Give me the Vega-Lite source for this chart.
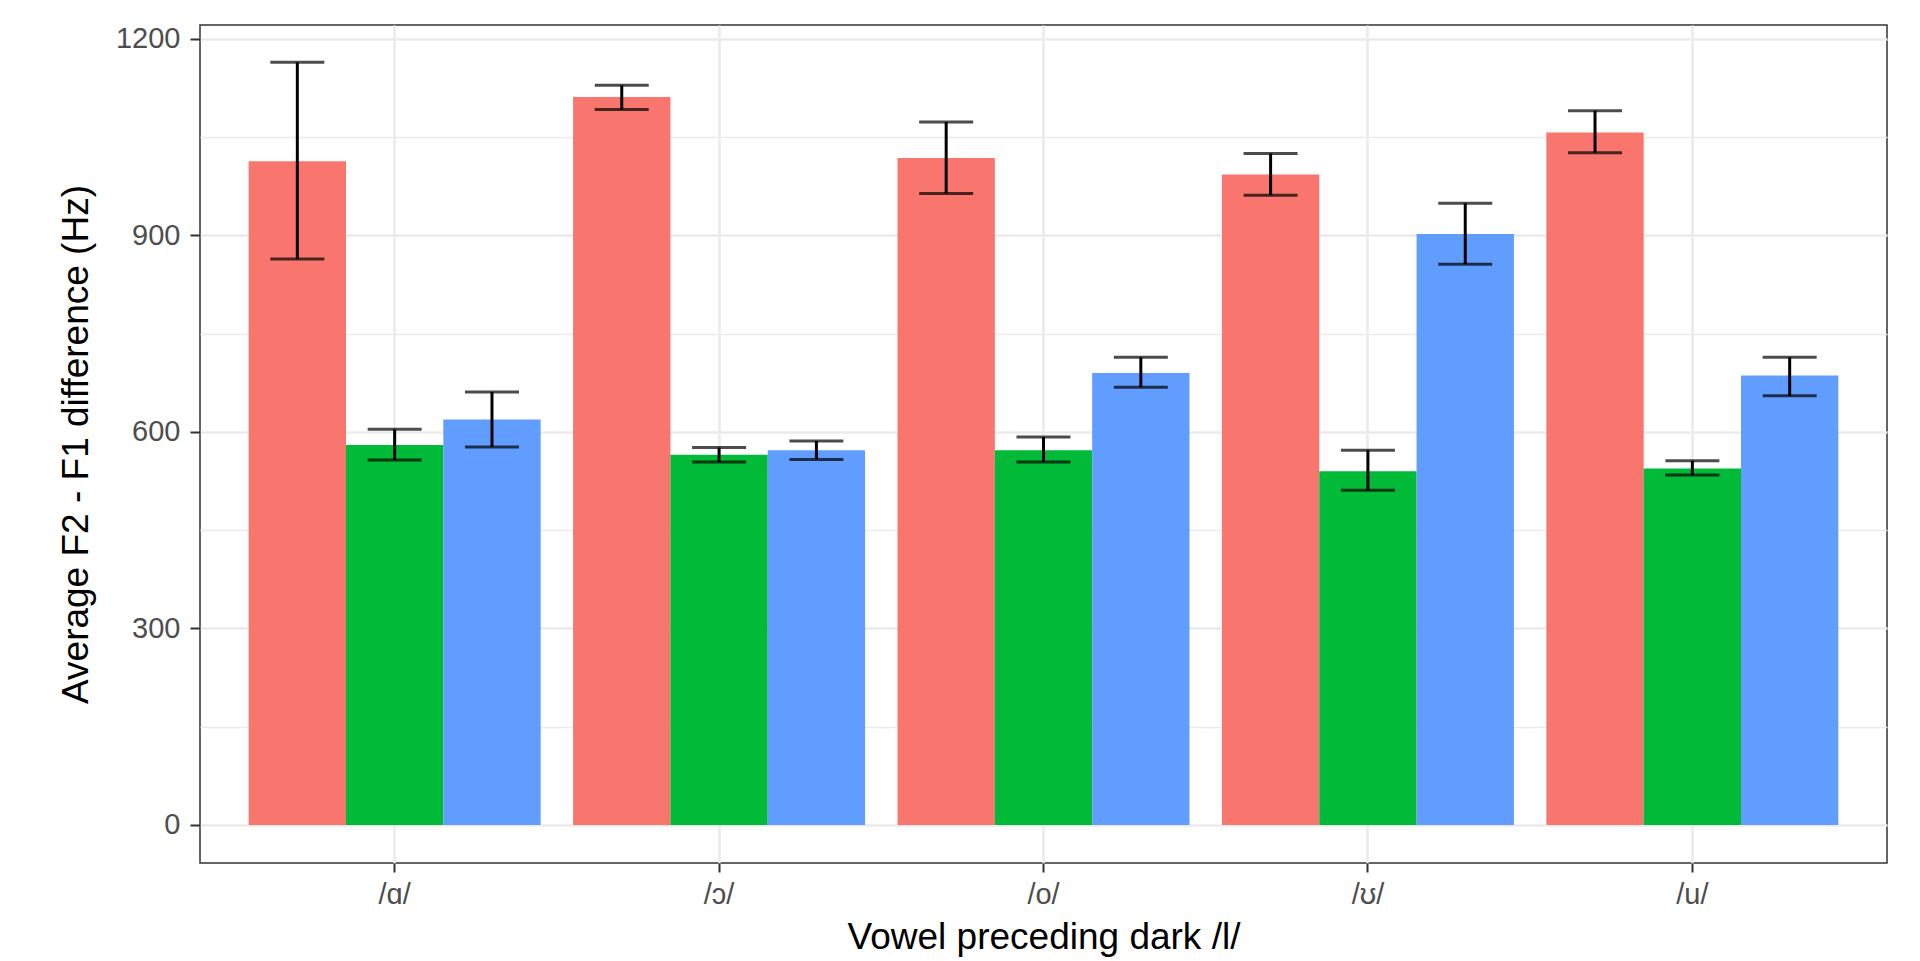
{
  "$schema": "https://vega.github.io/schema/vega-lite/v6.json",
  "width": 1687,
  "height": 838,
  "autosize": {"type": "none"},
  "padding": {"left": 200, "top": 25, "right": 33, "bottom": 98},
  "background": "white",
  "config": {
    "view": {"stroke": "#333333", "strokeWidth": 1.5},
    "font": "Liberation Sans"
  },
  "data": {
    "values": [
      {"vowel": "/ɑ/", "group": "Group A", "mean": 1013, "lo": 864, "hi": 1164},
      {"vowel": "/ɑ/", "group": "Group B", "mean": 580, "lo": 557, "hi": 604},
      {"vowel": "/ɑ/", "group": "Group C", "mean": 619, "lo": 577, "hi": 661},
      {"vowel": "/ɔ/", "group": "Group A", "mean": 1111, "lo": 1092, "hi": 1129},
      {"vowel": "/ɔ/", "group": "Group B", "mean": 565, "lo": 554, "hi": 576},
      {"vowel": "/ɔ/", "group": "Group C", "mean": 572, "lo": 558, "hi": 586},
      {"vowel": "/o/", "group": "Group A", "mean": 1018, "lo": 964, "hi": 1073},
      {"vowel": "/o/", "group": "Group B", "mean": 572, "lo": 554, "hi": 592},
      {"vowel": "/o/", "group": "Group C", "mean": 690, "lo": 668, "hi": 714},
      {"vowel": "/ʊ/", "group": "Group A", "mean": 993, "lo": 961, "hi": 1025},
      {"vowel": "/ʊ/", "group": "Group B", "mean": 540, "lo": 511, "hi": 572},
      {"vowel": "/ʊ/", "group": "Group C", "mean": 902, "lo": 856, "hi": 949},
      {"vowel": "/u/", "group": "Group A", "mean": 1057, "lo": 1026, "hi": 1090},
      {"vowel": "/u/", "group": "Group B", "mean": 544, "lo": 534, "hi": 556},
      {"vowel": "/u/", "group": "Group C", "mean": 686, "lo": 655, "hi": 714}
    ]
  },
  "encoding": {
    "x": {
      "field": "vowel",
      "type": "nominal",
      "sort": ["/ɑ/", "/ɔ/", "/o/", "/ʊ/", "/u/"],
      "scale": {"paddingInner": 0.1, "paddingOuter": 0.15},
      "axis": {
        "title": "Vowel preceding dark /l/",
        "labelAngle": 0,
        "labelFontSize": 29,
        "labelColor": "#4D4D4D",
        "tickColor": "#333333",
        "tickWidth": 2,
        "tickSize": 9,
        "labelPadding": 8,
        "titleFontSize": 37,
        "titleFontWeight": "normal",
        "titleColor": "black",
        "titlePadding": 10,
        "grid": true,
        "gridColor": "#EBEBEB",
        "gridWidth": 2.5,
        "domain": false
      }
    },
    "xOffset": {
      "field": "group",
      "type": "nominal",
      "sort": ["Group A", "Group B", "Group C"],
      "scale": {"paddingInner": 0, "paddingOuter": 0}
    }
  },
  "layer": [
    {
      "mark": {"type": "bar"},
      "encoding": {
        "y": {
          "field": "mean",
          "type": "quantitative",
          "title": "Average F2 - F1 difference (Hz)",
          "scale": {"domain": [-58, 1221], "nice": false, "zero": false},
          "axis": {
            "values": [0, 150, 300, 450, 600, 750, 900, 1050, 1200],
            "format": "d",
            "labelExpr": "datum.value % 300 === 0 ? datum.label : ''",
            "gridColor": "#EBEBEB",
            "gridWidth": {"condition": {"test": "datum.value % 300 === 0", "value": 2.5}, "value": 1.3},
            "tickOpacity": {"condition": {"test": "datum.value % 300 === 0", "value": 1}, "value": 0},
            "tickColor": "#333333",
            "tickWidth": 2,
            "tickSize": 10,
            "labelPadding": 10,
            "labelFontSize": 29,
            "labelColor": "#4D4D4D",
            "titleFontSize": 37,
            "titleFontWeight": "normal",
            "titleColor": "black",
            "titlePadding": 20,
            "domain": false
          }
        },
        "y2": {"datum": 0},
        "color": {
          "field": "group",
          "type": "nominal",
          "scale": {"domain": ["Group A", "Group B", "Group C"], "range": ["#F8766D", "#00BA38", "#619CFF"]},
          "legend": null
        }
      }
    },
    {
      "mark": {"type": "rule", "color": "black", "strokeWidth": 3},
      "encoding": {
        "y": {"field": "lo", "type": "quantitative", "title": "Average F2 - F1 difference (Hz)"},
        "y2": {"field": "hi"}
      }
    },
    {
      "mark": {"type": "tick", "color": "black", "thickness": 3, "size": 54},
      "encoding": {
        "y": {"field": "lo", "type": "quantitative", "title": "Average F2 - F1 difference (Hz)"}
      }
    },
    {
      "mark": {"type": "tick", "color": "black", "thickness": 3, "size": 54},
      "encoding": {
        "y": {"field": "hi", "type": "quantitative", "title": "Average F2 - F1 difference (Hz)"}
      }
    }
  ]
}
